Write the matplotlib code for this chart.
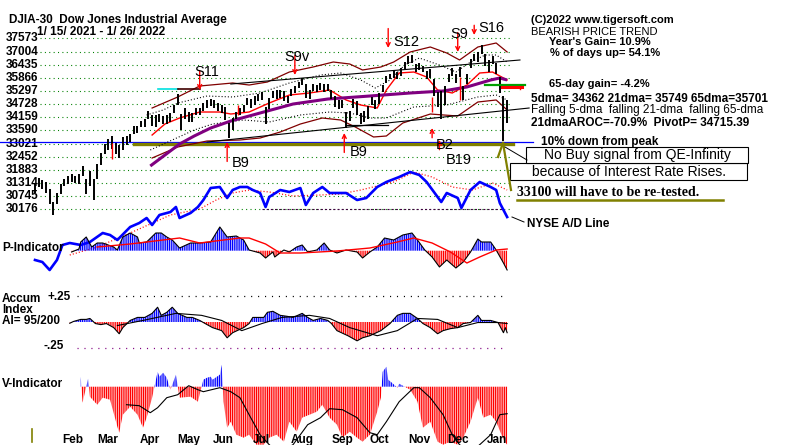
import numpy as np
import matplotlib.pyplot as plt
from matplotlib.lines import Line2D
from matplotlib.patches import Rectangle

plt.rcParams['font.family'] = ['Liberation Sans', 'DejaVu Sans']
plt.rcParams['lines.scale_dashes'] = False
plt.rcParams['hatch.linewidth'] = 0.85

W, H = 800, 445
X0, DX = 35.0, 1.83   # pixel x of first trading day (1/15/2021), pixels per trading day

# ---------------- data (x = trading-day index) ----------------
price_levels = [37573, 37004, 36435, 35866, 35297, 34728, 34159, 33590,
                33021, 32452, 31883, 31314, 30745, 30176]

bar_idx = list(range(0, 259, 2))
bar_high = [31300, 31550, 31450, 31350, 31050, 30500, 30900, 31250, 31500, 31600,
            31700, 31600, 31700, 32050, 31500, 31850, 31500, 32150, 32600, 33000,
            33200, 33350, 33050, 32950, 33300, 33350, 33450, 33800, 33800, 34000,
            34100, 34450, 34250, 34250, 34300, 34200, 34250, 34350, 34700, 35150,
            34300, 34550, 34400, 34350, 34550, 34550, 34800, 34900, 34950, 34900,
            34800, 34700, 34600, 33900, 34150, 34400, 34550, 34700, 35000, 34950,
            35100, 35150, 35250, 34600, 35000, 35300, 35350, 35350, 35300, 35100,
            35400, 35500, 35700, 35850, 35600, 35350, 35600, 35550, 35650, 35600,
            35600, 35350, 35100, 34900, 34900, 34400, 34450, 34950, 34850, 34350,
            34450, 34650, 35050, 34900, 35200, 35550, 35950, 36050, 36150, 36100,
            36300, 36550, 36800, 36850, 36450, 36500, 36400, 36150, 36250, 35800,
            35250, 35300, 35500, 36050, 36300, 36050, 36350, 35500, 36050, 36700,
            36900, 37000, 37300, 36900, 36650, 36800, 36500, 35900, 35100, 34900]
bar_low = [30900, 31150, 31050, 30900, 30400, 29950, 30400, 30850, 31200, 31250,
           31350, 31300, 31250, 31600, 30850, 31200, 30600, 31500, 32100, 32550,
           32750, 32800, 32550, 32400, 32750, 32950, 33100, 33450, 33500, 33750,
           33750, 34100, 33800, 33750, 33950, 33850, 33850, 33950, 34350, 34700,
           33600, 34100, 33950, 33950, 34250, 34250, 34450, 34550, 34650, 34550,
           34450, 34350, 34050, 33250, 33600, 34100, 34250, 34400, 34700, 34550,
           34700, 34850, 34900, 33850, 34500, 35000, 34950, 35000, 34850, 34800,
           35100, 35200, 35450, 35550, 35000, 34950, 35300, 35250, 35350, 35250,
           35300, 34950, 34600, 34500, 34550, 33700, 34000, 34550, 34250, 33850,
           33950, 34100, 34700, 34500, 34750, 35250, 35650, 35800, 35850, 35800,
           35950, 36250, 36450, 36500, 36100, 36200, 36100, 35800, 35850, 35100,
           34600, 34100, 34700, 35700, 35950, 35650, 35900, 34900, 35600, 36300,
           36600, 36550, 36900, 36400, 36100, 36450, 36050, 35200, 33150, 33900]

dma21_idx = [64, 71, 79, 90, 101, 107, 117, 128, 139, 150, 161, 170, 178, 187, 192,
             199, 207, 214, 220, 228, 236, 243, 250, 258]
dma21_val = [33393, 33869, 34129, 34389, 34389, 34302, 34389, 34779, 35125, 35212,
             35342, 34909, 34692, 34562, 35342, 36078, 36121, 35905, 35342, 35212,
             35558, 36078, 36121, 35775]

dma65_idx = [63, 71, 79, 87, 96, 107, 123, 141, 160, 183, 205, 223, 236, 249, 254, 258]
dma65_val = [32051, 32527, 33003, 33350, 33696, 33999, 34346, 34735, 34952, 35082,
             35212, 35298, 35472, 35775, 35861, 35775]

band_up_idx = [64, 78, 90, 108, 117, 127, 139, 152, 163, 172, 179, 189, 196, 205,
               216, 225, 232, 242, 252, 258]
band_up_val = [34562, 35039, 35515, 35645, 35558, 35688, 36121, 36338, 36554, 36467,
               36208, 36338, 36554, 36987, 37204, 36944, 36641, 37204, 37377, 36987]

band_lo_idx = [64, 78, 94, 112, 123, 134, 145, 157, 167, 175, 185, 192, 201, 216,
               231, 242, 252, 258]
band_lo_val = [32397, 32874, 33133, 33177, 33263, 33523, 33869, 34129, 34043, 33740,
               33307, 33350, 33913, 34302, 34216, 34822, 34909, 34476]

dot_up_idx = [61, 70, 78, 85, 94, 108, 123, 139, 156, 167, 178, 186, 194, 202, 210,
              221, 230, 238, 246, 252, 258]
dot_up_val = [34259, 34476, 34779, 34909, 35082, 35039, 35212, 35645, 35991, 36078,
              35775, 35428, 35775, 36424, 36727, 36424, 36121, 36554, 36857, 36857, 36554]

dot_lo_idx = [63, 75, 87, 97, 114, 128, 145, 161, 172, 183, 192, 207, 225, 242, 252, 258]
dot_lo_val = [32744, 33177, 33610, 33869, 34043, 33956, 34259, 34389, 34346, 34129,
              34129, 34606, 34692, 35039, 35125, 34909]

trend_up_idx = [107, 265]
trend_up_val = [35601, 36641]
trend_lo_idx = [94, 270]
trend_lo_val = [33090, 34562]

red_mark_idx = [42, 111, 217, 232]
red_mark_lo = [32348, 34259, 34389, 34909]
red_mark_hi = [33046, 34692, 35039, 35905]

sig_names = ['S11', 'S9v', 'S12', 'S9', 'S16', 'B9', 'B9', 'B2', 'B19']
sig_idx = [90, 142, 193, 231, 240, 105, 169, 217, 221]
sig_price = [35342, 35991, 37161, 36987, 37723, 33090, 33480, 33696, 33177]

ad_idx = [0, 4, 8, 12, 15, 19, 25, 30, 37, 41, 45, 52, 57, 61, 64, 68, 74, 77, 79,
          85, 89, 92, 96, 101, 105, 108, 112, 116, 119, 123, 126, 128, 134, 139, 145,
          148, 152, 157, 161, 167, 170, 176, 181, 187, 192, 199, 205, 210, 214, 220,
          222, 225, 231, 233, 238, 243, 249, 252, 254, 258]
ad_val = [-30, -32, -40, -30, -15, -13, -15, -12, -3, -5, -10, 3, 7, 12, 5, 15, 18, 23,
          12, 17, 23, 30, 42, 43, 32, 40, 43, 43, 40, 37, 23, 33, 40, 38, 42, 25, 37,
          43, 37, 37, 37, 30, 32, 43, 48, 53, 58, 55, 48, 33, 28, 37, 32, 22, 40, 48,
          43, 40, 27, 13]
ad_ma_idx = [19, 34, 52, 74, 90, 99, 108, 117, 128, 141, 156, 167, 178, 196, 207,
             217, 228, 239, 250, 258]
ad_ma_val = [-25, -17, -3, 15, 21, 30, 37, 40, 38, 34, 35, 36, 40, 48, 58, 53, 43,
             40, 47, 40]

p_idx = [20, 24, 25, 28, 31, 34, 37, 43, 45, 48, 52, 56, 57, 61, 66, 69, 72, 75, 79,
         85, 90, 96, 99, 101, 105, 110, 114, 117, 123, 126, 130, 131, 136, 139, 143,
         146, 149, 154, 158, 161, 165, 170, 176, 179, 183, 187, 191, 196, 201, 206,
         209, 213, 217, 221, 225, 230, 234, 238, 242, 244, 249, 252, 256, 258]
p_val = [-13, 17, 87, 137, 37, 77, 77, 37, 7, 137, 177, 137, 77, 87, 177, 177, 137,
         107, 27, 77, 77, 87, 177, 237, 137, 147, 107, 7, -23, -73, -13, -63, 7, -13,
         37, 57, -13, 7, 77, 7, -23, 7, -13, -73, -13, 37, 127, 107, 157, 177, 107, 7,
         -63, -163, -93, -173, -113, -13, 117, 87, 87, 7, -123, -193]
p_ma_idx = [34, 52, 70, 79, 90, 103, 112, 117, 126, 134, 145, 165, 183, 198, 207,
            217, 227, 236, 243, 252, 258]
p_ma_val = [37, 67, 107, 127, 77, 107, 127, 127, 67, -23, -23, -3, 27, 87, 127, 77,
            -13, -123, -63, 7, 17]

ai_idx = [19, 21, 25, 28, 30, 33, 36, 39, 43, 46, 48, 52, 56, 60, 64, 67, 69, 72, 75,
          78, 83, 86, 90, 93, 97, 102, 105, 108, 114, 117, 119, 125, 127, 130, 134,
          138, 141, 146, 149, 152, 156, 160, 162, 165, 171, 176, 179, 183, 189, 194,
          198, 201, 205, 209, 212, 216, 220, 223, 227, 231, 234, 238, 242, 244, 249,
          253, 256, 257, 258]
ai_val = [-0.012, 0.005, 0.025, 0.025, 0.034, -0.015, -0.025, -0.015, -0.054, -0.113,
          -0.054, 0.015, 0.044, 0.044, 0.083, 0.142, 0.064, 0.093, 0.142, 0.083, 0.044,
          0.044, 0.015, -0.015, -0.054, -0.083, -0.152, -0.103, -0.054, -0.015, 0.044,
          0.044, 0.093, 0.103, 0.064, 0.054, 0.044, 0.083, 0.044, 0.015, 0.034, 0.015,
          -0.015, -0.083, -0.132, -0.181, -0.152, -0.132, -0.083, -0.015, 0.064, 0.083,
          0.083, 0.034, -0.015, -0.054, -0.113, -0.083, -0.064, -0.054, -0.015, -0.005,
          0.064, 0.015, 0.015, -0.005, -0.103, -0.054, -0.103]
ai_ma_idx = [45, 59, 77, 91, 102, 113, 124, 135, 150, 161, 172, 187, 198, 209, 220,
             231, 242, 253, 258]
ai_ma_val = [-0.034, 0.015, 0.083, 0.064, 0.015, -0.083, -0.015, 0.044, 0.064, 0.034,
             -0.054, -0.132, -0.083, 0.034, 0.025, -0.054, -0.005, -0.005, -0.015]

v_idx = [25, 26, 29, 30, 34, 37, 41, 45, 46, 48, 52, 56, 59, 61, 64, 67, 68, 70, 72,
         74, 77, 79, 85, 89, 92, 94, 96, 97, 101, 102, 103, 105, 107, 110, 114, 117,
         121, 125, 128, 132, 136, 139, 143, 146, 150, 154, 157, 161, 165, 168, 172,
         176, 179, 183, 187, 189, 190, 192, 193, 195, 198, 199, 205, 209, 212, 216,
         220, 223, 227, 231, 234, 238, 242, 245, 249, 252, 256, 258]
v_val = [10, -16, 8, -10, -18, -11, -13, -40, -46, -28, -20, -28, -41, -31, -11, 15,
         10, 14, 9, -3, 12, -11, -10, -15, 7, 9, 10, 7, 12, 22, -15, -41, -35, -48, -51,
         -48, -58, -58, -51, -48, -55, -35, -45, -31, -28, -25, -18, -31, -38, -51, -45,
         -51, -55, -48, -25, -11, 15, 20, 7, 4, -1, 3, -3, -15, -41, -35, -55, -58, -55,
         -58, -51, -35, -11, -31, -28, -35, -53, -58]
v_ma_idx = [50, 57, 63, 67, 72, 78, 84, 89, 92, 101, 107, 112, 117, 123, 128, 133,
            141, 149, 156, 161, 168, 176, 183, 187, 192, 199, 207, 210, 216, 223, 228,
            232, 238, 243, 249, 254, 258]
v_ma_val = [-18, -19, -26, -21, -11, -8, 1, -3, -5, -1, -5, -11, -28, -48, -58, -66,
            -58, -38, -31, -22, -23, -31, -46, -48, -35, -15, -1, -1, -11, -28, -48,
            -58, -66, -58, -48, -28, -27]

month_names = ['Feb', 'Mar', 'Apr', 'May', 'Jun', 'Jul', 'Aug', 'Sep', 'Oct', 'Nov', 'Dec', 'Jan']
month_start = [10, 29, 52, 73, 92, 114, 135, 157, 178, 199, 220, 242]

# ---------------- figure: full-size overlaid layers ----------------
fig = plt.figure(figsize=(8, 4.45), dpi=100)
fig.patch.set_facecolor('white')


def layer(lo, hi):
    ax = fig.add_axes([0, 0, 1, 1])
    ax.set_xlim(-X0 / DX, (W - X0) / DX)
    ax.set_ylim(lo, hi)
    ax.axis('off')
    ax.patch.set_alpha(0)
    return ax


ax_p = layer(19970, 39239)      # price
ax_ad = layer(-215, 230)        # NYSE A/D line
ax_pi = layer(-1943, 2507)      # P-Indicator
ax_ai = layer(-1.1827, 3.0962)  # Accum index
ax_v = layer(-58.3, 386.7)      # V-Indicator


def txt(x, y, s, size=8.5, weight='bold', ha='left', **kw):
    fig.text(x / W, 1 - y / H, s, fontsize=size, fontweight=weight, ha=ha, va='center', **kw)


def fline(xs, ys, **kw):
    fig.add_artist(Line2D([x / W for x in xs], [1 - y / H for y in ys],
                          transform=fig.transFigure, **kw))


GREEN_DOT = (0, (0.75, 2.4))
FINE_DOT = (0, (0.75, 1.5))

# price grid + labels
for lv in price_levels:
    ax_p.plot([3, 259.5], [lv, lv], color='#008000', lw=0.8, ls=GREEN_DOT, zorder=1)
    ax_p.text(-15.8, lv, str(lv), fontsize=8.5, fontweight='bold', va='center', zorder=1)

# support lines
ax_p.plot([-20, 272], [33107, 33107], color='#0000ff', lw=0.9, zorder=2)
ax_p.plot([54, 261], [33000, 33000], color='#808000', lw=2.4, zorder=2)

# bands and averages
ax_p.plot(band_up_idx, band_up_val, color='#800000', lw=0.9, zorder=3)
ax_p.plot(band_lo_idx, band_lo_val, color='#800000', lw=0.9, zorder=3)
ax_p.plot(dot_up_idx, dot_up_val, color='black', lw=0.8, ls=FINE_DOT, zorder=3)
ax_p.plot(dot_lo_idx, dot_lo_val, color='black', lw=0.8, ls=FINE_DOT, zorder=3)
ax_p.plot(trend_up_idx, trend_up_val, color='black', lw=0.8, zorder=3)
ax_p.plot(trend_lo_idx, trend_lo_val, color='black', lw=0.8, zorder=3)
ax_p.plot([67, 78], [35370, 35370], color='#00e0e0', lw=1.2, zorder=3)
ax_p.plot([78, 90], [35390, 35390], color='#400000', lw=1.2, zorder=3)
ax_p.plot([170, 193], [33826, 33826], color='black', lw=0.9, zorder=3)
ax_p.plot(dma21_idx, dma21_val, color='#ff0000', lw=1.0, zorder=4)
ax_p.plot(dma65_idx, dma65_val, color='#800080', lw=2.2, zorder=4, solid_capstyle='butt')

# price bars
ax_p.vlines(bar_idx, bar_low, bar_high, color='black', lw=1.4, zorder=5)
ax_p.vlines(red_mark_idx, red_mark_lo, red_mark_hi, color='#ff0000', lw=1.0, zorder=6)

# pivot marks
ax_p.plot([246, 268], [35545, 35545], color='#00a000', lw=1.6, zorder=6)
ax_p.plot([255, 266], [35485, 35485], color='#ff0000', lw=2.2, zorder=7)
ax_p.plot([265, 265], [35485, 35390], color='#ff0000', lw=1.0, zorder=7)

# signals
for name, i, pr in zip(sig_names, sig_idx, sig_price):
    up = name.startswith('B')
    length = 14 if name not in ('S16', 'B2', 'B19') else 7
    ax_p.annotate('', xy=(i, pr), xytext=(0, -length if up else length),
                  textcoords='offset points', zorder=8,
                  arrowprops=dict(arrowstyle='->', color='#ff0000', lw=1.0,
                                  shrinkA=0, shrinkB=0, mutation_scale=7))
sig_text = {'S11': (194, 72), 'S9v': (284, 57), 'S12': (393, 42), 'S9': (450, 34),
            'S16': (478, 28), 'B9a': (232, 163), 'B9b': (350, 152), 'B2': (436, 145),
            'B19': (446, 160)}
for key, (x, y) in sig_text.items():
    txt(x, y, key.rstrip('ab'), size=10.5, weight='normal')

# NYSE A/D line
ax_ad.plot([124, 255], [20.5, 20.5], color='#400040', lw=0.8, ls=(0, (1.5, 1.5)))
ax_ad.plot(ad_ma_idx, ad_ma_val, color='#ff0000', lw=0.9, ls=FINE_DOT)
ax_ad.plot(ad_idx, ad_val, color='#0000ff', lw=1.9)

# P-Indicator
p_i = np.array(p_idx)
p_v = np.array(p_val)
ax_pi.fill_between(p_i, 0, p_v, where=p_v >= 0, interpolate=True, facecolor='none',
                   edgecolor='#0000ff', hatch='|' * 9, lw=0)
ax_pi.fill_between(p_i, 0, p_v, where=p_v <= 0, interpolate=True, facecolor='none',
                   edgecolor='#ff0000', hatch='|' * 9, lw=0)
ax_pi.plot(p_i, p_v, color='black', lw=0.8)
ax_pi.plot(p_ma_idx, p_ma_val, color='#ff0000', lw=1.0)

# Accumulation index
a_i = np.array(ai_idx)
a_v = np.array(ai_val)
ax_ai.plot([23, 257], [0.25, 0.25], color='black', lw=0.9, ls=(0, (0.8, 4.2)))
ax_ai.plot([23, 257], [-0.25, -0.25], color='#800080', lw=0.9, ls=(0, (0.8, 4.2)))
ax_ai.fill_between(a_i, 0, a_v, where=a_v >= 0, interpolate=True, facecolor='none',
                   edgecolor='#0000ff', hatch='|' * 9, lw=0)
ax_ai.fill_between(a_i, 0, a_v, where=a_v <= 0, interpolate=True, facecolor='none',
                   edgecolor='#ff0000', hatch='|' * 9, lw=0)
ax_ai.plot(a_i, a_v, color='black', lw=0.8)
ax_ai.plot(ai_ma_idx, ai_ma_val, color='black', lw=0.8)

# V-Indicator
v_i = np.array(v_idx)
v_v = np.array(v_val)
ax_v.fill_between(v_i, 0, v_v, where=v_v >= 0, interpolate=True, facecolor='none',
                  edgecolor='#0000ff', hatch='|' * 9, lw=0)
ax_v.fill_between(v_i, 0, v_v, where=v_v <= 0, interpolate=True, facecolor='none',
                  edgecolor='#ff0000', hatch='|' * 9, lw=0)
ax_v.plot(v_ma_idx, v_ma_val, color='black', lw=0.8)

# month labels
for name, i in zip(month_names, month_start):
    ax_v.text(i + 5, -53, name, fontsize=8.5, fontweight='bold', va='center', zorder=9)
fline([32, 32], [429, 442], color='#808000', lw=1.2)

# titles and panel labels
txt(9, 20, 'DJIA-30  Dow Jones Industrial Average', size=8.5)
txt(37, 32, '1/ 15/ 2021 - 1/ 26/ 2022', size=8.5)
txt(2, 248, 'P-Indicator')
txt(2, 299, 'Accum')
txt(2, 310, 'Index')
txt(2, 321, 'AI= 95/200')
txt(47, 297, '+.25')
txt(43, 346, '-.25')
txt(2, 384, 'V-Indicator')

# right-hand commentary
txt(531, 20, '(C)2022 www.tigersoft.com', size=8)
txt(531, 32, 'BEARISH PRICE TREND', size=8, weight='normal')
txt(549, 42, "Year's Gain= 10.9%", size=8)
txt(550, 53, '% of days up= 54.1%', size=8)
txt(549, 84, '65-day gain= -4.2%', size=8)
txt(531, 99, '5dma= 34362 21dma= 35749 65dma=35701', size=8.5)
txt(531, 110, 'Falling 5-dma  falling 21-dma  falling 65-dma', size=8.5, weight='normal')
txt(531, 123, '21dmaAROC=-70.9%  PivotP= 34715.39', size=8.5)
txt(541, 142, '10% down from peak', size=8.5)

fline([503, 511], [143, 190], color='#808000', lw=1.6)
fline([503, 498], [143, 157], color='#808000', lw=1.6)
fline([505, 527], [147, 160], color='black', lw=0.7)
fig.add_artist(Rectangle((510 / W, 1 - 180 / H), 237 / W, 17 / H, transform=fig.transFigure,
                         facecolor='white', edgecolor='black', lw=0.8))
fig.add_artist(Rectangle((526 / W, 1 - 163 / H), 222 / W, 16 / H, transform=fig.transFigure,
                         facecolor='white', edgecolor='black', lw=0.8))
txt(637, 155, 'No Buy signal from QE-Infinity', size=10, weight='normal', ha='center')
txt(629, 172, 'because of Interest Rate Rises.', size=10, weight='normal', ha='center')
fig.text(517 / W, 1 - 192 / H, '33100 will have to be re-tested.', fontsize=10,
         fontweight='bold', family='Liberation Serif', va='center')
fline([517, 723], [199.5, 199.5], color='#808000', lw=1.8)

fline([512, 524], [217, 222], color='black', lw=0.7)
txt(527, 224, 'NYSE A/D Line', size=8.5)

fig.savefig('out.png', dpi=100, facecolor='white')
